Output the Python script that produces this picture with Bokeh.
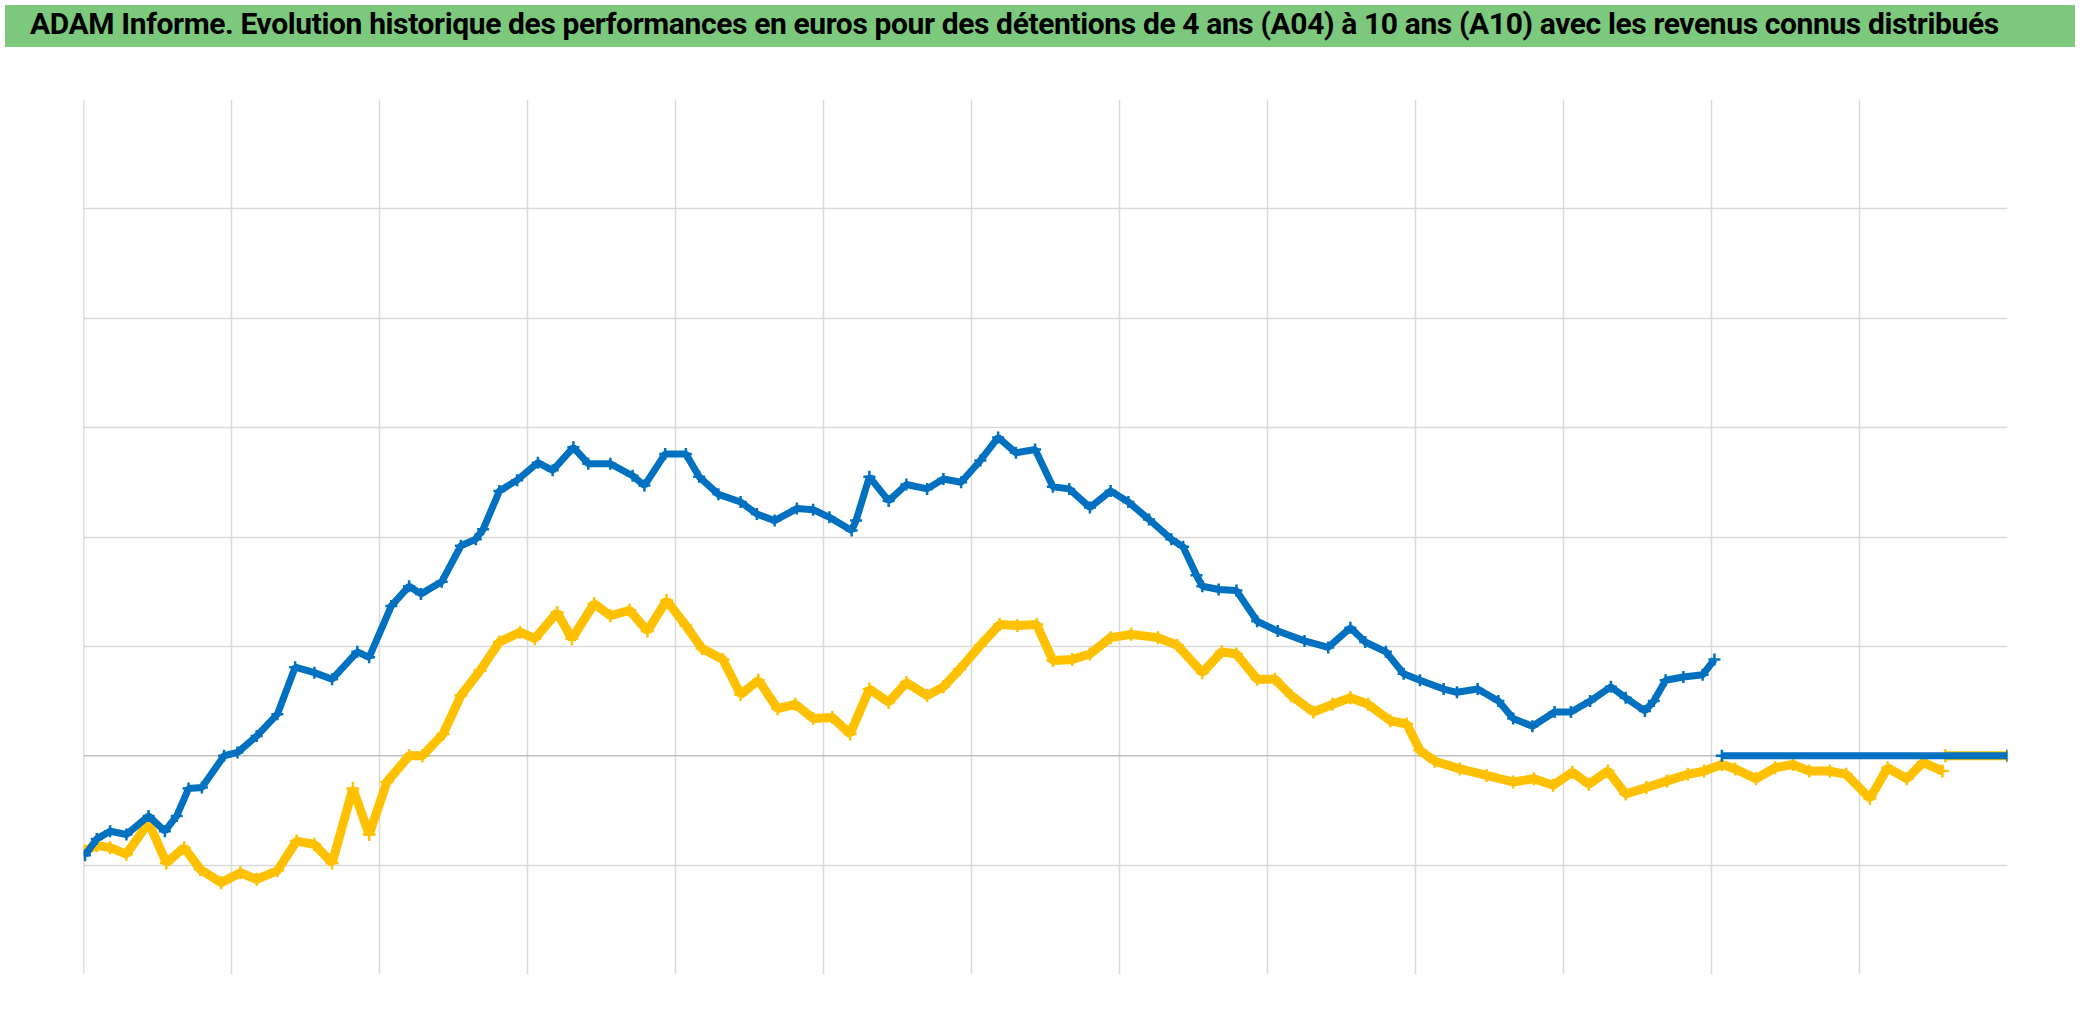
from bokeh.plotting import figure
from bokeh.models import FixedTicker, Span, Div
from bokeh.layouts import column
from bokeh.embed import file_html
from bokeh.resources import INLINE

TITLE = ("ADAM Informe. Evolution historique des performances en euros pour des "
         "détentions de 4 ans (A04) à 10 ans (A10) avec les revenus connus distribués")

X_GRID = [1, 2, 3, 4, 5, 6, 7, 8, 9, 10, 11, 12]
Y_GRID = [-20, -10, 10, 20, 30, 40, 50, 60]

blue_x = [0.01, 0.09, 0.18, 0.29, 0.44, 0.55, 0.63, 0.71, 0.80, 0.95, 1.04, 1.17, 1.31, 1.43,
          1.56, 1.68, 1.85, 1.93, 2.08, 2.20, 2.28, 2.42, 2.55, 2.65, 2.70, 2.81, 2.93, 3.07,
          3.17, 3.31, 3.41, 3.56, 3.71, 3.79, 3.93, 4.07, 4.16, 4.29, 4.44, 4.55, 4.67, 4.82,
          4.93, 5.04, 5.19, 5.22, 5.31, 5.44, 5.56, 5.70, 5.81, 5.93, 6.06, 6.18, 6.30, 6.43,
          6.55, 6.66, 6.80, 6.94, 7.06, 7.20, 7.35, 7.43, 7.52, 7.56, 7.67, 7.79, 7.93, 8.07,
          8.25, 8.41, 8.56, 8.66, 8.80, 8.92, 9.03, 9.19, 9.28, 9.42, 9.56, 9.66, 9.79, 9.94,
          10.05, 10.18, 10.32, 10.42, 10.55, 10.61, 10.69, 10.81, 10.94, 11.02]
blue_y = [-9.1, -7.6, -6.9, -7.2, -5.5, -6.9, -5.5, -3.0, -2.9, 0.0, 0.3, 1.8, 3.8, 8.1,
          7.6, 7.0, 9.5, 9.0, 13.7, 15.5, 14.8, 15.9, 19.2, 19.8, 20.7, 24.2, 25.2, 26.8,
          26.1, 28.2, 26.7, 26.7, 25.6, 24.7, 27.6, 27.6, 25.5, 23.9, 23.2, 22.1, 21.5, 22.6,
          22.5, 21.8, 20.6, 21.5, 25.5, 23.3, 24.8, 24.4, 25.3, 25.0, 27.0, 29.1, 27.7, 28.0,
          24.6, 24.4, 22.7, 24.2, 23.2, 21.6, 19.8, 19.1, 16.5, 15.5, 15.2, 15.1, 12.3, 11.4,
          10.5, 9.9, 11.7, 10.4, 9.5, 7.5, 6.9, 6.1, 5.8, 6.1, 5.0, 3.4, 2.7, 4.0,
          4.0, 5.0, 6.3, 5.3, 4.1, 5.0, 6.9, 7.2, 7.4, 8.8]
blue_tail_x = [11.07, 13.0]
blue_tail_y = [0.0, 0.0]

yellow_x = [0.01, 0.09, 0.18, 0.29, 0.44, 0.56, 0.68, 0.79, 0.93, 1.06, 1.17, 1.31, 1.44, 1.56,
            1.68, 1.82, 1.93, 2.05, 2.20, 2.29, 2.43, 2.55, 2.68, 2.81, 2.95, 3.05, 3.20, 3.30,
            3.45, 3.56, 3.69, 3.81, 3.94, 4.07, 4.18, 4.32, 4.44, 4.56, 4.69, 4.81, 4.93, 5.06,
            5.18, 5.31, 5.44, 5.56, 5.70, 5.81, 5.92, 6.06, 6.19, 6.31, 6.44, 6.55, 6.68, 6.80,
            6.94, 7.08, 7.26, 7.39, 7.56, 7.69, 7.79, 7.93, 8.05, 8.16, 8.31, 8.44, 8.56, 8.68,
            8.83, 8.94, 9.03, 9.13, 9.30, 9.48, 9.66, 9.80, 9.93, 10.06, 10.17, 10.30, 10.42,
            10.56, 10.70, 10.84, 10.95, 11.07, 11.16, 11.30, 11.43, 11.55, 11.66, 11.80, 11.91,
            12.07, 12.19, 12.32, 12.43, 12.56]
yellow_y = [-8.7, -8.2, -8.4, -9.0, -6.1, -9.8, -8.4, -10.4, -11.6, -10.7, -11.3, -10.5, -7.8, -8.1,
            -9.8, -3.0, -7.2, -2.4, 0.0, 0.0, 2.0, 5.5, 7.8, 10.4, 11.3, 10.7, 13.1, 10.7,
            13.9, 12.8, 13.3, 11.4, 14.2, 11.9, 9.8, 8.8, 5.6, 6.9, 4.3, 4.7, 3.4, 3.5,
            2.0, 6.1, 4.9, 6.7, 5.5, 6.3, 7.9, 10.1, 12.0, 11.9, 12.0, 8.7, 8.8, 9.3,
            10.8, 11.1, 10.8, 10.1, 7.6, 9.5, 9.3, 7.0, 7.0, 5.5, 4.0, 4.7, 5.3, 4.7,
            3.2, 2.9, 0.5, -0.5, -1.2, -1.8, -2.4, -2.1, -2.7, -1.5, -2.6, -1.4, -3.5,
            -2.9, -2.3, -1.7, -1.4, -0.8, -1.2, -2.1, -1.1, -0.8, -1.4, -1.4, -1.7,
            -3.9, -1.1, -2.1, -0.6, -1.4]
yellow_tail_x = [12.58, 13.0]
yellow_tail_y = [0.0, 0.0]

BLUE = "#0070C0"
YELLOW = "#FFC000"

title_div = Div(text=TITLE, width=2070, height=42,
                styles={"background-color": "#7CC87C", "color": "black",
                        "font-family": "Roboto, sans-serif",
                        "font-weight": "bold", "font-size": "30px",
                        "letter-spacing": "-0.38px",
                        "line-height": "38px", "padding-left": "25px",
                        "white-space": "nowrap",
                        "box-sizing": "border-box"})

p = figure(width=2070, height=973, x_range=(0, 13), y_range=(-20, 60),
           output_backend="svg", toolbar_location=None,
           min_border_left=83, min_border_right=63, min_border_top=47, min_border_bottom=51)
p.xaxis.visible = False
p.yaxis.visible = False
p.outline_line_color = None
p.background_fill_color = "white"
p.border_fill_color = "white"

p.xgrid.ticker = FixedTicker(ticks=X_GRID)
p.ygrid.ticker = FixedTicker(ticks=Y_GRID)
for g in (p.xgrid, p.ygrid):
    g.grid_line_color = "#D9D9D9"
    g.grid_line_width = 1.5

p.add_layout(Span(location=0, dimension="width", line_color="#BFBFBF", line_width=1.5,
                  level="underlay"))
p.add_layout(Span(location=0, dimension="height", line_color="#BFBFBF", line_width=1.5,
                  level="underlay"))

# yellow series
p.line(yellow_x, yellow_y, line_color=YELLOW, line_width=9)
p.scatter(yellow_x, yellow_y, marker="cross", size=13, line_color=YELLOW, line_width=2.5)
p.line(yellow_tail_x, yellow_tail_y, line_color=YELLOW, line_width=9)
p.scatter(yellow_tail_x, yellow_tail_y, marker="cross", size=13, line_color=YELLOW, line_width=2.5)

# blue series
p.line(blue_x, blue_y, line_color=BLUE, line_width=7)
p.scatter(blue_x, blue_y, marker="cross", size=12, line_color=BLUE, line_width=2.5)
p.line(blue_tail_x, blue_tail_y, line_color=BLUE, line_width=7)
p.scatter(blue_tail_x, blue_tail_y, marker="cross", size=12, line_color=BLUE, line_width=2.5)

layout = column(title_div, p, spacing=0)

open("out.html", "w").write(file_html(layout, INLINE))
